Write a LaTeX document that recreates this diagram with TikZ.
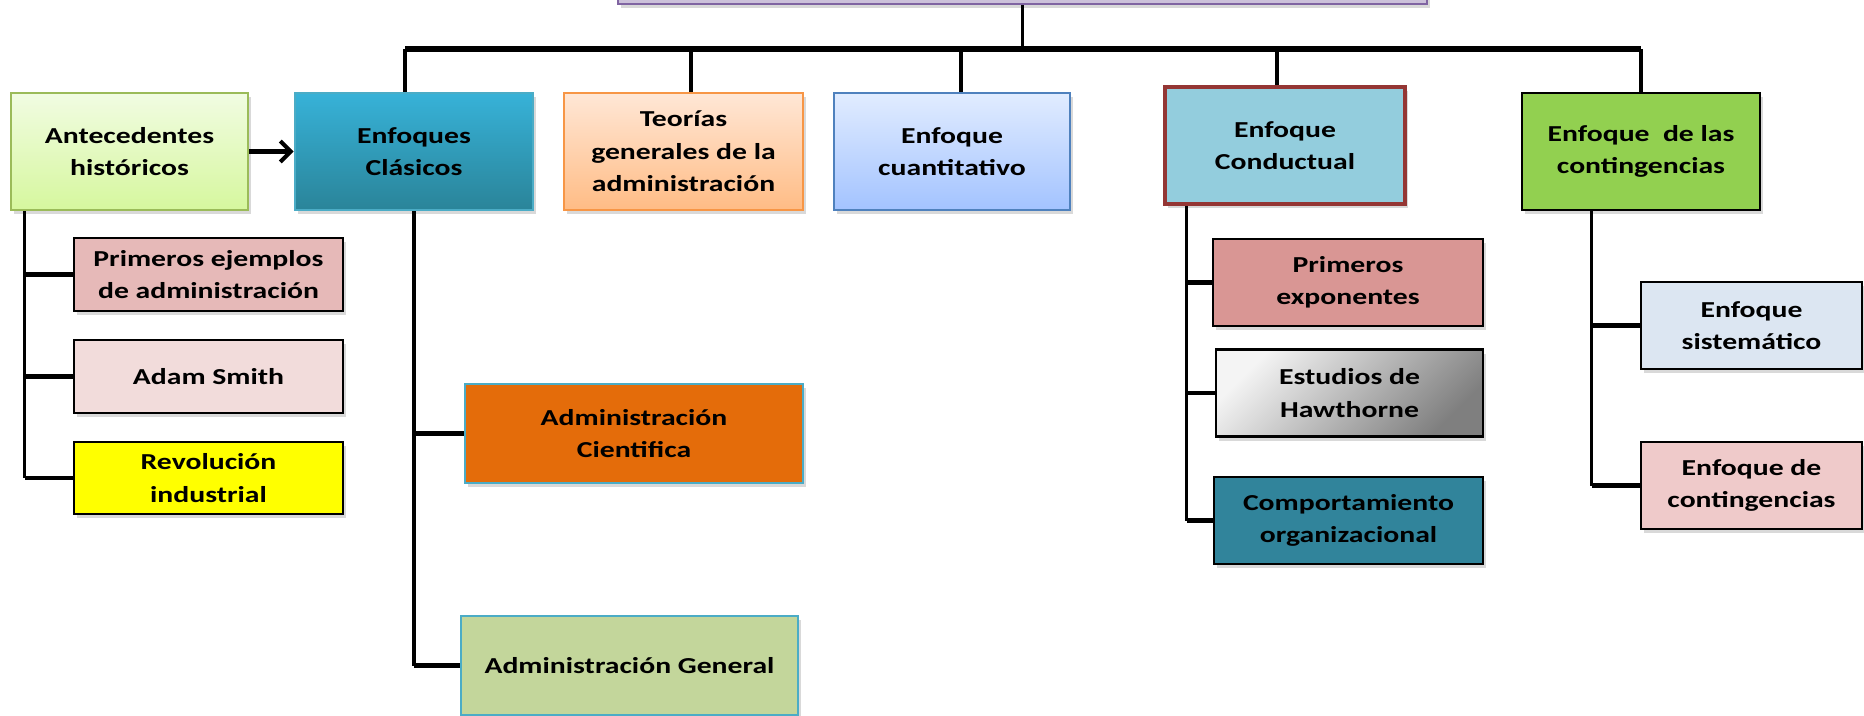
\documentclass[tikz,border=0pt]{standalone}
\usepackage{fontspec}
\setmainfont{Carlito}[FakeStretch=1.3]
\usepackage{xcolor}
\usetikzlibrary{arrows.meta,shadows}

\definecolor{rootF}{HTML}{CCC1DA}
\definecolor{rootD}{HTML}{8064A2}
\definecolor{anteT}{HTML}{F1FCE2}
\definecolor{anteB}{HTML}{D6F79E}
\definecolor{anteD}{HTML}{9BBB59}
\definecolor{clasT}{HTML}{37B2D8}
\definecolor{clasB}{HTML}{2A8499}
\definecolor{clasD}{HTML}{4BACC6}
\definecolor{teorT}{HTML}{FFE7D6}
\definecolor{teorB}{HTML}{FFBC85}
\definecolor{teorD}{HTML}{F79646}
\definecolor{cuanT}{HTML}{E1ECFF}
\definecolor{cuanB}{HTML}{A3C3FF}
\definecolor{cuanD}{HTML}{4F81BD}
\definecolor{condF}{HTML}{93CDDD}
\definecolor{condD}{HTML}{943634}
\definecolor{contF}{HTML}{92D050}
\definecolor{pejF}{HTML}{E6B9B8}
\definecolor{adamF}{HTML}{F2DCDB}
\definecolor{revoF}{HTML}{FFFF00}
\definecolor{acieF}{HTML}{E46C0A}
\definecolor{agenF}{HTML}{C3D69B}
\definecolor{pexpF}{HTML}{D99694}
\definecolor{hawT}{HTML}{F4F4F4}
\definecolor{hawB}{HTML}{7F7F7F}
\definecolor{compF}{HTML}{31849B}
\definecolor{sistF}{HTML}{DCE6F2}
\definecolor{cgenF}{HTML}{EFCACA}

\tikzset{
  box/.style={draw=black, line width=1.5pt, inner sep=0pt, align=center,
    font=\bfseries\fontsize{13}{18.5}\selectfont,
    drop shadow={shadow xshift=1.5pt, shadow yshift=-2.5pt, opacity=0.3}},
  topbox/.style={box, minimum height=2.34cm},
  subbox/.style={box, minimum height=1.74cm},
  bar/.style={line width=3.4pt},
  drop/.style={line width=1.8pt},
  link/.style={line width=2.8pt},
  arr/.style={line width=2.3pt, -{Straight Barb[length=6pt,width=12pt]}}
}

\begin{document}
\begin{tikzpicture}[x=0.02cm,y=-0.02cm]
\useasboundingbox (0,0) rectangle (1864,716);

% cabecera (solo se ve el borde inferior)
\node[box, fill=rootF, draw=rootD, minimum width=16.18cm, minimum height=1.36cm] (root) at (1022.5,-30) {};

% primer nivel
\node[topbox, top color=anteT, bottom color=anteB, draw=anteD, minimum width=4.74cm] (ante) at (129.5,151.5) {Antecedentes\\históricos};
\node[topbox, top color=clasT, bottom color=clasB, draw=clasD, minimum width=4.76cm] (clas) at (414,151.5) {Enfoques\\Clásicos};
\node[topbox, top color=teorT, bottom color=teorB, draw=teorD, minimum width=4.78cm] (teor) at (683.5,151.5) {Teorías\\generales de la\\administración};
\node[topbox, top color=cuanT, bottom color=cuanB, draw=cuanD, minimum width=4.72cm] (cuan) at (952,151.5) {Enfoque\\cuantitativo};
\node[topbox, fill=condF, draw=condD, line width=2.6pt, minimum width=4.8cm] (cond) at (1285,145.5) {Enfoque\\Conductual};
\node[topbox, fill=contF, minimum width=4.76cm] (cont) at (1641,151.5) {Enfoque\ \ de las\\contingencias};

% antecedentes
\node[box, fill=pejF, minimum width=5.38cm, minimum height=1.46cm] (pej) at (208.5,274.5) {Primeros ejemplos\\de administración};
\node[box, fill=adamF, minimum width=5.38cm, minimum height=1.46cm] (adam) at (208.5,376.5) {Adam Smith};
\node[box, fill=revoF, minimum width=5.38cm, minimum height=1.44cm] (revo) at (208.5,478) {Revolución\\industrial};

% enfoques clasicos
\node[box, fill=acieF, draw=clasD, minimum width=6.76cm, minimum height=1.98cm] (acie) at (634,433.5) {Administración\\Cientifica};
\node[box, fill=agenF, draw=clasD, minimum width=6.74cm, minimum height=1.98cm] (agen) at (629.5,665.5) {Administración General};

% enfoque conductual
\node[subbox, fill=pexpF, minimum width=5.4cm] (pexp) at (1348,282.5) {Primeros\\exponentes};
\node[subbox, top color=hawT, bottom color=hawB, shading angle=45, minimum width=5.34cm] (haw) at (1349.5,393) {Estudios de\\Hawthorne};
\node[subbox, fill=compF, minimum width=5.38cm] (comp) at (1348.5,520.5) {Comportamiento\\organizacional};

% contingencias
\node[subbox, fill=sistF, minimum width=4.42cm] (sist) at (1751.5,325.5) {Enfoque\\sistemático};
\node[subbox, fill=cgenF, minimum width=4.42cm] (cgen) at (1751.5,485.5) {Enfoque de\\contingencias};

% lineas
\coordinate (barL) at (405,49);
\coordinate (barR) at (1641,49);
\draw[bar] (barL) -- (barR);
\draw[drop] (root.south) -- (root.south |- barL);
\foreach \n/\dx in {clas/-0.18,teor/0.15,cuan/0.18,cond/-0.16,cont/0}
  \draw[drop] ([xshift=\dx cm]\n.north) -- ([xshift=\dx cm]\n.north |- barL);

\draw[arr] (ante) -- (clas);

\coordinate (t1) at ([xshift=0.3cm]ante.south west);
\draw[drop] (t1) -- (t1 |- revo.west);
\foreach \n in {pej,adam,revo}
  \draw[link] (\n.west) -- (\n.west -| t1);

\draw[drop] (clas.south) -- (clas.south |- agen.west);
\foreach \n in {acie,agen}
  \draw[link] (\n.west) -- (\n.west -| clas.south);

\coordinate (t3) at ([xshift=0.48cm]cond.south west);
\draw[drop] (t3) -- (t3 |- comp.west);
\foreach \n in {pexp,haw,comp}
  \draw[link] (\n.west) -- (\n.west -| t3);

\coordinate (t4) at ([xshift=1.42cm]cont.south west);
\draw[drop] (t4) -- (t4 |- cgen.west);
\foreach \n in {sist,cgen}
  \draw[link] (\n.west) -- (\n.west -| t4);
\end{tikzpicture}
\end{document}
